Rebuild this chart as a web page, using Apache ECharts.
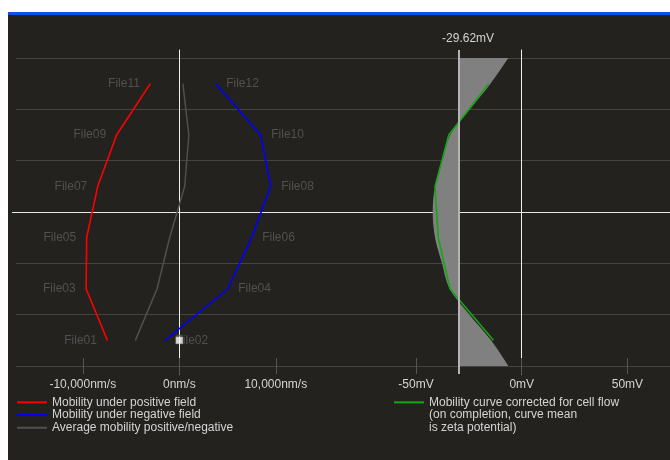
<!DOCTYPE html>
<html>
<head>
<meta charset="utf-8">
<script src="https://cdn.jsdelivr.net/npm/echarts@6/dist/echarts.min.js"></script>
<style>
html, body { margin: 0; padding: 0; background: #ffffff; }
#panel { position: absolute; left: 8px; top: 12px; width: 662px; height: 448px;
         background: #23221e; border-top: 3px solid #0a52e6; box-sizing: border-box; }
#chart { position: absolute; left: 0; top: 0; width: 670px; height: 460px; }
</style>
</head>
<body>
<div id="panel"></div>
<div id="chart"></div>
<script>
// Depth of each measurement pair in the cell (0 = bottom wall, 3 = centre, 6 = top wall)
const fileLevels = [0.5, 1.5, 2.5, 3.5, 4.5, 5.5];
const positiveFiles = ['File01', 'File03', 'File05', 'File07', 'File09', 'File11'];
const negativeFiles = ['File02', 'File04', 'File06', 'File08', 'File10', 'File12'];

// Mobility in nm/s
const positiveMobility = [-7450, -9650, -9600, -8450, -6500, -3000];
const negativeMobility = [-1480, 5020, 7500, 9470, 8440, 3770];
const averageMobility = [-4550, -2310, -1000, 560, 990, 370];

// Zeta potential in mV, corrected for cell flow
const correctedZeta = [-13.4, -33.9, -39.5, -41.0, -34.5, -15.6];

// Fitted cell-flow profile (mV) across the full depth
const profileLevels = [0, 0.5, 1, 1.5, 2, 2.5, 3, 3.5, 4, 4.5, 5, 5.5, 6];
const profileZeta = [-6.3, -14.5, -24.7, -34.0, -37.7, -41.0, -42.1, -41.0, -37.5, -33.8, -24.5, -14.8, -6.3];

const zetaMean = -29.62;

// Currently selected file marker
const currentLevel = 0.5;
const currentMobility = 0;

const mobilityTicks = [-10000, 0, 10000];
const mobilityTickLabels = ['-10,000nm/s', '0nm/s', '10,000nm/s'];
const zetaTicks = [-50, 0, 50];
const zetaTickLabels = ['-50mV', '0mV', '50mV'];

const seriesNames = [
  'Mobility under positive field',
  'Mobility under negative field',
  'Average mobility positive/negative',
  'Mobility curve corrected for cell flow'
];
const correctedLegendLines = [
  'Mobility curve corrected for cell flow',
  '(on completion, curve mean',
  'is zeta potential)'
];

const FONT = '"Liberation Sans", Arial, sans-serif';
const GRID_LINE = '#45443f';
const TICK = '#56554f';
const TEXT = '#d4d4d4';
const FILE_LABEL = '#5c5c5c';

// Vertical extent of the plots in depth units
const LEVEL_MIN = -0.1558, LEVEL_MAX = 6.1558;

function pairs(xs, levels) { return xs.map((v, i) => [v, levels[i]]); }
function named(xs, levels, names) { return xs.map((v, i) => ({ value: [v, levels[i]], name: names[i] })); }

function hiddenX(idx) {
  return { gridIndex: idx, type: 'value', min: 0, max: 1, show: false };
}

const chart = echarts.init(document.getElementById('chart'), null, { renderer: 'canvas' });

// Smooth closed shape between the flow profile and the mean line
function renderProfile(params, api) {
  if (params.dataIndex !== 0) return null;
  const pts = profileZeta.map((z, i) => api.coord([z, profileLevels[i]]));
  let d = 'M' + pts[0][0] + ',' + pts[0][1];
  for (let i = 0; i < pts.length - 1; i++) {
    const p0 = pts[Math.max(i - 1, 0)];
    const p1 = pts[i];
    const p2 = pts[i + 1];
    const p3 = pts[Math.min(i + 2, pts.length - 1)];
    const c1x = p1[0] + (p2[0] - p0[0]) / 6, c1y = p1[1] + (p2[1] - p0[1]) / 6;
    const c2x = p2[0] - (p3[0] - p1[0]) / 6, c2y = p2[1] - (p3[1] - p1[1]) / 6;
    d += ' C' + c1x + ',' + c1y + ' ' + c2x + ',' + c2y + ' ' + p2[0] + ',' + p2[1];
  }
  const top = api.coord([zetaMean, profileLevels[profileLevels.length - 1]]);
  const bottom = api.coord([zetaMean, profileLevels[0]]);
  d += ' L' + top[0] + ',' + top[1] + ' L' + bottom[0] + ',' + bottom[1] + ' Z';
  return { type: 'path', shape: { pathData: d }, style: { fill: '#808080' } };
}

const option = {
  animation: false,
  backgroundColor: 'transparent',
  textStyle: { fontFamily: FONT },
  grid: [
    { left: 16, right: 0, top: 58, height: 308 },          // depth grid lines
    { left: 12, right: 0, top: 58, height: 308 },          // cell centre line
    { left: 15.25, width: 328.1, top: 50, height: 324 },   // mobility
    { left: 352.6, width: 317.1, top: 50, height: 324 }    // zeta potential
  ],
  xAxis: [
    hiddenX(0),
    hiddenX(1),
    {
      gridIndex: 2, type: 'value', min: -17000, max: 17000, position: 'bottom',
      axisLine: { show: false, onZero: false },
      axisTick: { show: true, inside: true, length: 16, customValues: mobilityTicks,
                  lineStyle: { color: TICK, width: 1 } },
      axisLabel: { show: true, customValues: mobilityTicks, margin: 5, color: TEXT,
                   fontSize: 12, fontFamily: FONT,
                   formatter: v => mobilityTickLabels[mobilityTicks.indexOf(v)] },
      splitLine: { show: false }
    },
    {
      gridIndex: 3, type: 'value', min: -80, max: 70, position: 'bottom',
      axisLine: { show: false, onZero: false },
      axisTick: { show: true, inside: true, length: 16, customValues: zetaTicks,
                  lineStyle: { color: TICK, width: 1 } },
      axisLabel: { show: true, customValues: zetaTicks, margin: 5, color: TEXT,
                   fontSize: 12, fontFamily: FONT,
                   formatter: v => zetaTickLabels[zetaTicks.indexOf(v)] },
      splitLine: { show: false }
    }
  ],
  yAxis: [
    {
      gridIndex: 0, type: 'value', min: 0, max: 6, interval: 1,
      axisLine: { show: false }, axisTick: { show: false }, axisLabel: { show: false },
      splitLine: { show: true, lineStyle: { color: [GRID_LINE, GRID_LINE, GRID_LINE, 'rgba(0,0,0,0)', GRID_LINE, GRID_LINE, GRID_LINE], width: 1 } }
    },
    {
      gridIndex: 1, type: 'value', min: 0, max: 6, interval: 3,
      axisLine: { show: false }, axisTick: { show: false }, axisLabel: { show: false },
      splitLine: { show: true, lineStyle: { color: ['rgba(0,0,0,0)', '#e8e8e8', 'rgba(0,0,0,0)'], width: 1 } }
    },
    {
      gridIndex: 2, type: 'value', min: LEVEL_MIN, max: LEVEL_MAX,
      axisLine: { show: true, onZero: true, lineStyle: { color: '#f0f0f0', width: 1 } },
      axisTick: { show: false }, axisLabel: { show: false }, splitLine: { show: false }
    },
    {
      gridIndex: 3, type: 'value', min: LEVEL_MIN, max: LEVEL_MAX,
      axisLine: { show: true, onZero: true, lineStyle: { color: '#f0f0f0', width: 1 } },
      axisTick: { show: false }, axisLabel: { show: false }, splitLine: { show: false }
    }
  ],
  legend: [
    {
      data: seriesNames.slice(0, 3),
      orient: 'vertical', left: 17, top: 396, padding: 0,
      icon: 'rect', itemWidth: 30, itemHeight: 2, itemGap: 0,
      selectedMode: false,
      textStyle: { color: TEXT, fontSize: 12, lineHeight: 12.7, fontFamily: FONT }
    },
    {
      data: [seriesNames[3]],
      orient: 'vertical', left: 394, top: 370.6, padding: 0,
      icon: 'rect', itemWidth: 30, itemHeight: 2, itemGap: 0,
      selectedMode: false,
      // two leading blank lines keep the icon level with the first text line
      formatter: () => '\n\n' + correctedLegendLines.join('\n'),
      textStyle: { color: TEXT, fontSize: 12, lineHeight: 12.7, fontFamily: FONT }
    }
  ],
  series: [
    {
      name: seriesNames[2], type: 'line', xAxisIndex: 2, yAxisIndex: 2,
      data: pairs(averageMobility, fileLevels), showSymbol: false, silent: true,
      itemStyle: { color: '#505050' }, lineStyle: { color: '#505050', width: 1.5 }
    },
    {
      name: seriesNames[0], type: 'line', xAxisIndex: 2, yAxisIndex: 2,
      data: pairs(positiveMobility, fileLevels), showSymbol: false, silent: true,
      itemStyle: { color: '#ff0000' }, lineStyle: { color: '#ff0000', width: 1.6 }
    },
    {
      name: seriesNames[1], type: 'line', xAxisIndex: 2, yAxisIndex: 2,
      data: pairs(negativeMobility, fileLevels), showSymbol: false, silent: true,
      itemStyle: { color: '#0000ff' }, lineStyle: { color: '#0000ff', width: 1.6 }
    },
    {
      type: 'scatter', xAxisIndex: 2, yAxisIndex: 2, silent: true,
      data: named(positiveMobility, fileLevels, positiveFiles),
      symbolSize: 1, itemStyle: { color: 'rgba(0,0,0,0)' },
      label: { show: true, position: 'left', distance: 10, formatter: '{b}',
               color: FILE_LABEL, fontSize: 12, fontFamily: FONT }
    },
    {
      type: 'scatter', xAxisIndex: 2, yAxisIndex: 2, silent: true,
      data: named(negativeMobility, fileLevels, negativeFiles),
      symbolSize: 1, itemStyle: { color: 'rgba(0,0,0,0)' },
      label: { show: true, position: 'right', distance: 10, formatter: '{b}',
               color: FILE_LABEL, fontSize: 12, fontFamily: FONT }
    },
    {
      type: 'scatter', xAxisIndex: 2, yAxisIndex: 2, silent: true, z: 5,
      data: [[currentMobility, currentLevel]],
      symbol: 'rect', symbolSize: 7,
      itemStyle: { color: '#ffffff', borderColor: '#9a9a9a', borderWidth: 0.5 }
    },
    {
      type: 'custom', xAxisIndex: 3, yAxisIndex: 3, silent: true, z: 2,
      data: pairs(profileZeta, profileLevels),
      renderItem: renderProfile,
      markLine: {
        silent: true, symbol: 'none', animation: false,
        lineStyle: { color: '#b4b4b4', width: 2, type: 'solid' },
        label: { show: true, position: 'end', distance: 5, offset: [9, 0],
                 color: TEXT, fontSize: 12, fontFamily: FONT,
                 formatter: () => zetaMean.toFixed(2) + 'mV' },
        emphasis: { disabled: true },
        data: [{ xAxis: zetaMean }]
      }
    },
    {
      name: seriesNames[3], type: 'line', xAxisIndex: 3, yAxisIndex: 3, z: 4,
      data: pairs(correctedZeta, fileLevels), showSymbol: false, silent: true,
      itemStyle: { color: '#12a812' }, lineStyle: { color: '#12a812', width: 1.6 }
    }
  ]
};

chart.setOption(option);
</script>
</body>
</html>
